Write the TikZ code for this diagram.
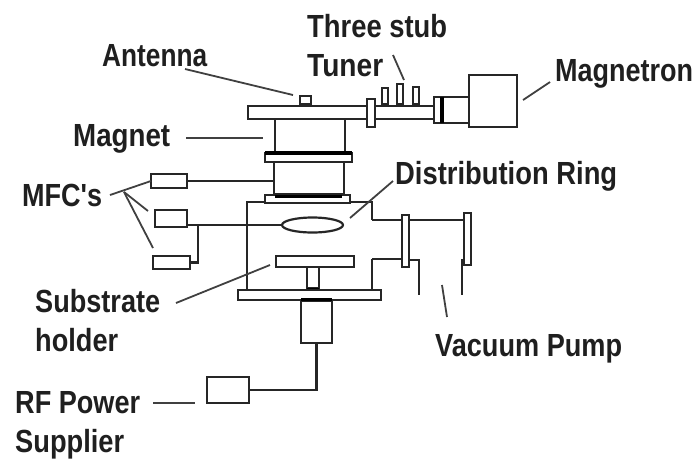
\documentclass[tikz,border=0pt]{standalone}
\usetikzlibrary{shapes.geometric}
\usepackage{fontspec}
\setmainfont[Ligatures=TeXOff]{Liberation Sans}
\tikzset{
  part/.style={draw=black!85,line width=2.2pt,fill=white,inner sep=0pt,outer sep=0pt},
  wire/.style={draw=black!85,line width=2.2pt,line join=miter},
  heavy/.style={draw=black,line width=3.5pt},
  leader/.style={draw=black!75,line width=1.8pt},
  lbl/.style={anchor=base west,inner sep=0pt,text=black!88,font=\fontsize{32}{32}\selectfont\bfseries},
}
\newcommand{\bx}[5]{\node[part,minimum width=#4pt,minimum height=#5pt] (#1) at (#2,#3) {};}
\newcommand{\lab}[5]{\node[lbl] (#1) at (#2,#3) {\resizebox{#4pt}{\height}{#5}};}
\begin{document}
\begin{tikzpicture}[x=1pt,y=-1pt]
\useasboundingbox (0,0) rectangle (699,459);
% free-end coordinates
\coordinate (chTL) at (247,202);
\coordinate (chTR) at (372,202);
\coordinate (chBL) at (247,290);
\coordinate (chBR) at (372,290);
\coordinate (chUp) at (372,220);
\coordinate (chLo) at (372,259);
\coordinate (pumpL) at (419,295);
\coordinate (pumpLt) at (419,260);
\coordinate (pumpR) at (462,295);
\coordinate (pumpRt) at (462,260);
\coordinate (ringJ) at (198,225);
\coordinate (mfcO) at (110,195);
\coordinate (mfcF) at (124,192);
\coordinate (mfcBe) at (148,211);
\coordinate (mfcCe) at (153,248);
\coordinate (lAnt) at (185,69);
\coordinate (lAntE) at (293,95);
\coordinate (lStub) at (393,55);
\coordinate (lStubE) at (404,80);
\coordinate (lMagnet) at (186,138);
\coordinate (lMagnetE) at (263,138);
\coordinate (lMagt) at (550,82);
\coordinate (lMagtE) at (523,100);
\coordinate (lDist) at (393,181);
\coordinate (lDistE) at (350,218);
\coordinate (lSub) at (176,303);
\coordinate (lSubE) at (270,265);
\coordinate (lVacA) at (442,285);
\coordinate (lVacB) at (447,317);
\coordinate (lRFa) at (153,403);
\coordinate (lRFb) at (195,403);
% chamber walls
\draw[wire] (chBL) -- (chTL) -- (chTR) -- (chUp);
\draw[wire] (chLo) -- (chBR);
% cylinders
\bx{cylA}{310}{136}{70}{34}
\bx{cylB}{309}{178}{70}{33}
\bx{ringA}{308.5}{157.5}{87}{9}
\bx{ringB}{307.5}{199}{85}{8}
\draw[heavy] (ringA.north west) -- (ringA.north east);
\draw[heavy] ([xshift=10pt,yshift=-1.5pt]ringB.north west) -- ([xshift=-8pt,yshift=-1.5pt]ringB.north east);
% waveguide
\bx{guideA}{307.5}{112.5}{119}{13}
\bx{guideB}{404.5}{112.5}{59}{13}
\bx{flangeA}{371}{113}{8}{28}
\bx{antenna}{305.5}{100}{11}{8}
\bx{stubA}{385}{96}{6}{16}
\bx{stubB}{400}{94}{6}{20}
\bx{stubC}{416}{95.5}{6}{17}
\bx{neck}{455.5}{110}{27}{26}
\bx{flangeB}{438}{110}{8}{26}
\draw[heavy] (flangeB.north east) -- (flangeB.south east);
\bx{magnetron}{493}{101}{48}{52}
% chamber contents
\node[part,ellipse,minimum width=61pt,minimum height=15pt] (ring) at (312.5,225) {};
\bx{stem}{313}{277.5}{12}{21}
\draw[heavy] ([yshift=-1.5pt]stem.south west) -- ([yshift=-1.5pt]stem.south east);
\bx{substrate}{315}{261.5}{78}{11}
\bx{base}{309.5}{295}{143}{10}
\bx{lower}{316.5}{322}{31}{42}
\draw[heavy] ([yshift=1.5pt]lower.north west) -- ([yshift=1.5pt]lower.north east);
% MFCs
\bx{mfcA}{169}{181}{36}{14}
\bx{mfcB}{171}{218.5}{32}{17}
\bx{mfcC}{171.5}{262.5}{37}{13}
\bx{rf}{228}{390}{42}{26}
% flanges on the pump side
\bx{flangeC}{405.5}{241}{7}{52}
\bx{plate}{467.5}{239}{7}{52}
% wires
\draw[wire] (mfcA.east) -- (mfcA.east -| cylB.west);
\draw[wire] (mfcB.east |- ringJ) -- (ringJ) -- (ring.west);
\draw[wire] (mfcC.east) -| (ringJ);
\draw[wire] (chUp) -- (chUp -| flangeC.west);
\draw[wire] (chLo) -- (chLo -| flangeC.west);
\draw[wire] (flangeC.east |- chUp) -- (plate.west |- chUp);
\draw[wire] (flangeC.east |- pumpLt) -- (pumpLt) -- (pumpL);
\draw[wire] (plate.west |- pumpRt) -- (pumpRt) -- (pumpR);
\draw[wire] (lower.south) |- (rf.east);
% labels
\lab{tThree}{307}{37}{140}{Three stub}
\lab{tTuner}{307}{76}{76}{Tuner}
\lab{tAnt}{102}{66}{105}{Antenna}
\lab{tMagnetron}{555}{81}{138}{Magnetron}
\lab{tMagnet}{73}{146}{97}{Magnet}
\lab{tMFC}{22}{206}{80}{MFC's}
\lab{tDist}{395}{184}{222}{Distribution Ring}
\lab{tSub}{35}{312}{125}{Substrate}
\lab{tHold}{35}{351}{83}{holder}
\lab{tVac}{435}{356}{187}{Vacuum Pump}
\lab{tRF}{15}{413}{125}{RF Power}
\lab{tSup}{15}{452}{109}{Supplier}
% leaders
\draw[leader] (lAnt) -- (lAntE);
\draw[leader] (lStub) -- (lStubE);
\draw[leader] (lMagnet) -- (lMagnetE);
\draw[leader] (lMagt) -- (lMagtE);
\draw[leader] (lDist) -- (lDistE);
\draw[leader] (lSub) -- (lSubE);
\draw[leader] (lVacA) -- (lVacB);
\draw[leader] (lRFa) -- (lRFb);
\draw[leader] (mfcO) -- (mfcA.west);
\draw[leader] (mfcF) -- (mfcBe);
\draw[leader] (mfcF) -- (mfcCe);
\end{tikzpicture}
\end{document}
